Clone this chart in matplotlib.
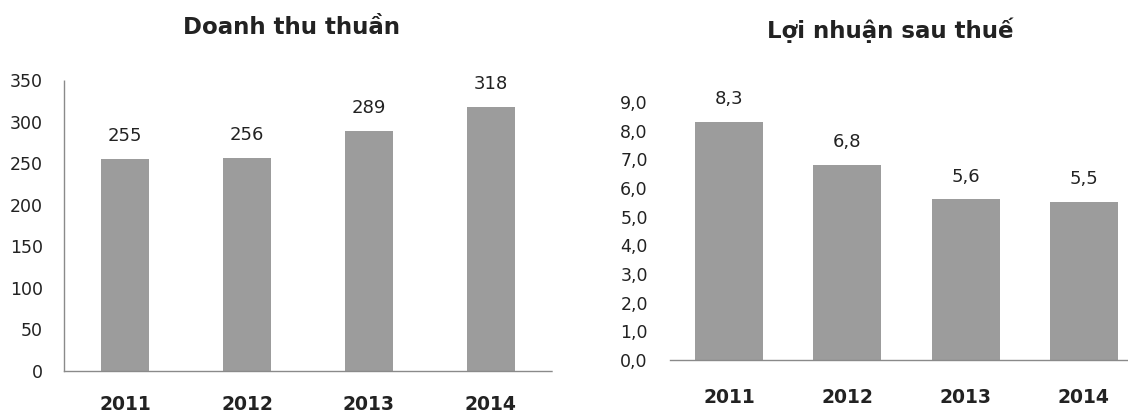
import numpy as np
import matplotlib
matplotlib.use("Agg")
import matplotlib.pyplot as plt
from matplotlib.ticker import FuncFormatter

years = ["2011", "2012", "2013", "2014"]
revenue = [255, 256, 289, 318]
profit = [8.3, 6.8, 5.6, 5.5]

title_revenue = "Doanh thu thuần"
title_profit = "Lợi nhuận sau thuế"

BAR = "#9c9c9c"
AXIS = "#8a8a8a"
TEXT = "#222222"

plt.rcParams['font.family'] = ['DejaVu Sans']


def comma(v, digits):
	return ("%.*f" % (digits, v)).replace(".", ",")


def draw(ax, values, width, ymax, step, digits, show_left, xpad, ypad):
	x = np.arange(len(values))
	ax.bar(x, values, width=width, color=BAR, edgecolor="none", zorder=2)
	for xi, v in zip(x, values):
		ax.annotate(comma(v, digits), (xi, v), xytext=(0, 10), textcoords="offset points",
			ha="center", va="bottom", fontsize=13, color=TEXT)
	ax.set_xlim(-0.5, len(values) - 0.5)
	ax.set_ylim(0, ymax)
	ax.set_yticks(np.arange(0, ymax + step / 2, step))
	ax.yaxis.set_major_formatter(FuncFormatter(lambda v, p: comma(v, digits)))
	ax.set_xticks(x)
	ax.set_xticklabels(years, fontsize=13.5, fontweight="bold", color=TEXT)
	ax.tick_params(axis="x", length=0, pad=xpad)
	ax.tick_params(axis="y", length=0, pad=ypad, labelsize=12.5, labelcolor=TEXT)
	for s in ["top", "right"]:
		ax.spines[s].set_visible(False)
	ax.spines["left"].set_visible(show_left)
	for s in ["left", "bottom"]:
		ax.spines[s].set_color(AXIS)
		ax.spines[s].set_linestyle((0, (1, 1)))
		ax.spines[s].set_linewidth(1.0)


fig = plt.figure(figsize=(11.28, 4.15), dpi=100)
ax1 = fig.add_axes([0.0567, 0.106, 0.4326, 0.701])
ax2 = fig.add_axes([0.594, 0.1325, 0.4193, 0.6217])

draw(ax1, revenue, 0.39, 350, 50, 0, True, 17, 15)
draw(ax2, profit, 0.575, 9.0, 1.0, 1, False, 20, 16)

fig.text(0.258, 0.933, title_revenue, ha="center", va="center", fontsize=16.5, fontweight="bold", color=TEXT)
fig.text(0.789, 0.928, title_profit, ha="center", va="center", fontsize=16.5, fontweight="bold", color=TEXT)

fig.savefig("out.png", dpi=100)
